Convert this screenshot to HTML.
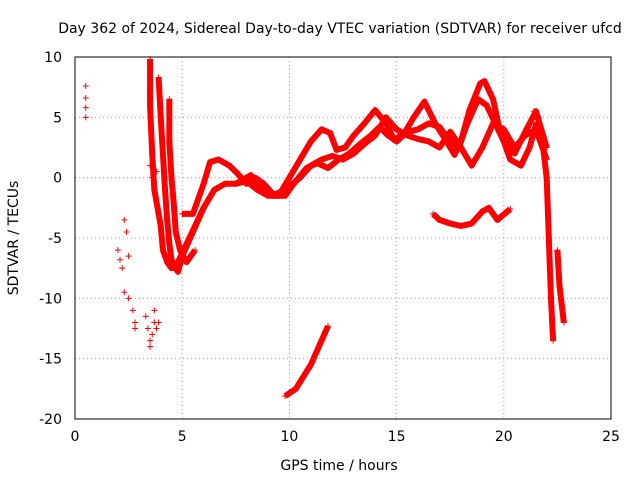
<!DOCTYPE html>
<html><head><meta charset="utf-8"><style>
body{margin:0;background:#fff;}
svg text{font-family:"DejaVu Sans","Liberation Sans",sans-serif;font-size:14px;fill:#000;}
</style></head><body>
<svg id="chart" width="640" height="480">
<text x="340" y="33" text-anchor="middle">Day 362 of 2024, Sidereal Day-to-day VTEC variation (SDTVAR) for receiver ufcd</text>
<text x="339" y="470" text-anchor="middle">GPS time / hours</text>
<text x="18" y="238" text-anchor="middle" transform="rotate(-90 18 238)">SDTVAR / TECUs</text>
<g id="grid"></g><g id="marks"></g>
<rect x="75" y="57" width="536" height="362" fill="none" stroke="#000" stroke-width="1"/>
</svg>
<script>
const xTicks=[0,5,10,15,20,25];
const yTicks=[10,5,0,-5,-10,-15,-20];
const trackAx=[4.6,5,5.5,6,6.5,7,7.5,8,8.5,9,9.5,10,10.5,11,11.5,11.9,12.2,12.6,13,13.5,14,14.5,14.9,15.4,15.8,16.3,16.8,17.3,17.7,18,18.4,18.9,19.1,19.5,19.8,20.3,20.8,21.2,21.5,21.8];
const trackAy=[-7.5,-6.5,-4.5,-2.5,-1,-0.5,-0.5,-0.3,-1,-1.5,-1.5,0,1.5,3,4,3.7,2.3,2.5,3.5,4.5,5.6,4.5,3.1,3.8,5,6.3,4.5,3.1,1.9,3,5.6,7.8,8.0,6.5,4,1.5,1,2.5,4.4,3];
const trackBx=[5,5.5,6,6.3,6.7,7.2,7.6,8,8.4,8.8,9.3,9.8,10.2,10.8,11.3,11.8,12.3,12.8,13.3,13.8,14.2,14.6,15,15.5,16,16.5,17,17.5,17.9,18.3,18.8,19.2,19.6,20,20.5,21,21.5,22];
const trackBy=[-3,-3,-0.5,1.3,1.5,1,0.3,-0.5,0,-0.5,-1.5,-1.5,-0.5,0.8,1.2,0.8,1.5,2,2.8,3.5,4.2,3.5,3,3.8,4,4.5,4.2,3,2.5,4.5,6.5,6,4.5,3,2,3.8,5.5,2.5];
const trackCx=[7.5,8.2,8.7,9.2,9.8,10.5,11,11.5,12,12.5,13,13.5,14,14.5,15,15.5,16,16.5,17,17.5,18,18.5,19,19.5,20,20.5,21,21.5,22];
const trackCy=[-0.5,0.2,-0.8,-1.5,-1,0,1,1.5,1.8,1.5,2,2.8,3.5,5,4,3.5,3.2,3,2.5,3.8,2.5,1,2.5,4.5,4,2.5,3.5,4,1.5];
const trackDx=[16.7,17,17.5,18,18.5,19,19.3,19.7,20.3];
const trackDy=[-3,-3.5,-3.8,-4,-3.8,-2.8,-2.5,-3.5,-2.6];
const trackEx=[9.8,10.3,11,11.5,11.8];
const trackEy=[-18.1,-17.5,-15.5,-13.5,-12.3];
const trackFx=[3.5,3.5,3.6,3.7,3.9,4,4.1,4.3,4.5,4.8,5.2,5.6,6];
const trackFy=[9.8,6,2,-1,-3,-4,-6,-7,-7.5,-7,-5.5,-4,-2.5];
const trackGx=[3.9,4,4.1,4.2,4.3,4.4,4.5,4.7,4.8,5];
const trackGy=[8.3,5,2,-1,-3.5,-5.5,-6.8,-7.5,-7.8,-6.5];
const trackJx=[4.4,4.4,4.5,4.6,4.7,4.9,5.2,5.6];
const trackJy=[6.5,3,0,-2,-4.5,-6,-7,-6];
const trackHx=[21.4,21.6,21.8,22,22.1,22.2,22.3];
const trackHy=[5.5,5,3,0,-5,-10,-13.5];
const trackIx=[22.5,22.6,22.7,22.8];
const trackIy=[-6,-9,-10.5,-12];
const dotsX=[0.5,0.5,0.5,0.5,2,2.1,2.2,2.3,2.4,2.5,2.3,2.5,2.7,2.8,2.8,3.3,3.4,3.5,3.6,3.7,3.8,3.9,3.5,3.7,3.5,3.6,3.7,3.8];
const dotsY=[7.6,6.6,5.8,5,-6,-6.8,-7.5,-3.5,-4.5,-6.5,-9.5,-10,-11,-12,-12.5,-11.5,-12.5,-14,-13,-12,-12.5,-12,-13.5,-11,1,0,-1,0.5];
const series=[[trackAx,trackAy],[trackBx,trackBy],[trackCx,trackCy],[trackDx,trackDy],[trackEx,trackEy],[trackFx,trackFy],[trackGx,trackGy],[trackJx,trackJy],[trackHx,trackHy],[trackIx,trackIy]];
const X0=75,X1=611,Y0=419,Y1=57;
function sx(v){return X0+(v-0)/25*(X1-X0);}
function sy(v){return Y0-(v+20)/30*(Y0-Y1);}
const NS="http://www.w3.org/2000/svg";
const grid=document.getElementById('grid'),marks=document.getElementById('marks');
xTicks.forEach(t=>{
 const x=sx(t);
 const l=document.createElementNS(NS,'line');
 
 
 l.setAttribute('x1',x);l.setAttribute('x2',x);l.setAttribute('y1',Y1);l.setAttribute('y2',Y0);
 l.setAttribute('stroke','#a0a0a0');l.setAttribute('stroke-dasharray','1,3');
 grid.appendChild(l);
 const tx=document.createElementNS(NS,'text');
 
 
 tx.setAttribute('x',x);tx.setAttribute('y',Y0+22);tx.setAttribute('text-anchor','middle');
 tx.textContent=t;grid.appendChild(tx);
});
yTicks.forEach(t=>{
 const y=sy(t);
 const l=document.createElementNS(NS,'line');
 
 
 l.setAttribute('x1',X0);l.setAttribute('x2',X1);l.setAttribute('y1',y);l.setAttribute('y2',y);
 l.setAttribute('stroke','#a0a0a0');l.setAttribute('stroke-dasharray','1,3');
 grid.appendChild(l);
 const tx=document.createElementNS(NS,'text');
 
 
 tx.setAttribute('x',X0-13);tx.setAttribute('y',y+5);tx.setAttribute('text-anchor','end');
 tx.textContent=t;grid.appendChild(tx);
});
function plus(x,y){
 const p=document.createElementNS(NS,'path');
 
 
 p.setAttribute('d',`M${x-3},${y}h6M${x},${y-3}v6`);
 p.setAttribute('stroke','#f00');p.setAttribute('stroke-width','1');
 marks.appendChild(p);
}
series.forEach(s=>{
 const pts=s[0].map((v,i)=>sx(v)+','+sy(s[1][i])).join(' ');
 const pl=document.createElementNS(NS,'polyline');
 
 
 pl.setAttribute('points',pts);pl.setAttribute('fill','none');
 pl.setAttribute('stroke','#f00');pl.setAttribute('stroke-width','6');pl.setAttribute('stroke-linejoin','round');
 marks.appendChild(pl);
 s[0].forEach((v,i)=>plus(sx(v),sy(s[1][i])));
});
dotsX.forEach((v,i)=>plus(sx(v),sy(dotsY[i])));
</script>
</body></html>
